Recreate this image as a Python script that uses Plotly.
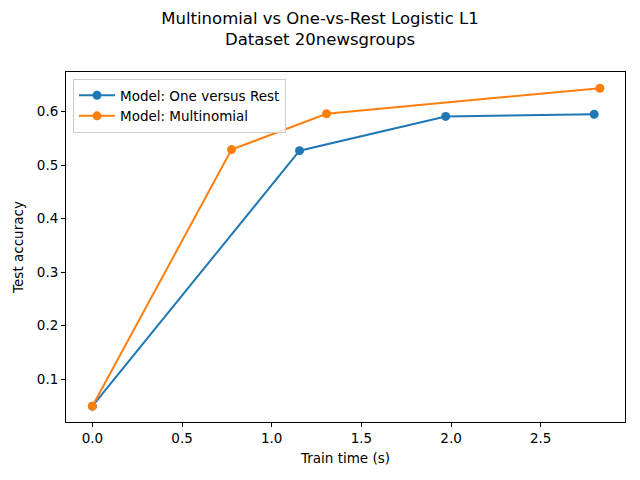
import plotly.graph_objects as go

ovr_time = [0.0, 1.155, 1.97, 2.798]
ovr_acc = [0.0496, 0.527, 0.591, 0.595]
multi_time = [0.0, 0.776, 1.306, 2.830]
multi_acc = [0.0496, 0.529, 0.596, 0.6437]

x_ticks = [0.0, 0.5, 1.0, 1.5, 2.0, 2.5]
y_ticks = [0.1, 0.2, 0.3, 0.4, 0.5, 0.6]

font = "DejaVu Sans"
fig = go.Figure()
fig.add_trace(go.Scatter(x=ovr_time, y=ovr_acc, mode="lines+markers",
                         name="Model: One versus Rest",
                         line=dict(color="#1f77b4", width=2),
                         marker=dict(size=9, color="#1f77b4")))
fig.add_trace(go.Scatter(x=multi_time, y=multi_acc, mode="lines+markers",
                         name="Model: Multinomial",
                         line=dict(color="#ff7f0e", width=2),
                         marker=dict(size=9, color="#ff7f0e")))

axis_common = dict(showline=True, linecolor="black", linewidth=1, mirror=True,
                   ticks="outside", ticklen=4, tickcolor="black", showgrid=False,
                   zeroline=False, tickfont=dict(family=font, size=13.5, color="black"))
fig.update_layout(
    width=640, height=480, plot_bgcolor="white", paper_bgcolor="white",
    margin=dict(l=66, r=15, t=72, b=58),
    title=dict(text="Multinomial vs One-vs-Rest Logistic L1<br>Dataset 20newsgroups",
               x=0.5, xanchor="center", y=0.951, yanchor="top",
               font=dict(family=font, size=16.5, color="black")),
    xaxis=dict(range=[-0.147, 2.97], tickvals=x_ticks,
               ticktext=[f"{v:.1f}" for v in x_ticks],
               title=dict(text="Train time (s)", font=dict(family=font, size=13.5, color="black"), standoff=8),
               **axis_common),
    yaxis=dict(range=[0.020, 0.674], tickvals=y_ticks,
               ticktext=[f"{v:.1f}" for v in y_ticks],
               title=dict(text="Test accuracy", font=dict(family=font, size=13.5, color="black"), standoff=10),
               **axis_common),
    legend=dict(x=0.0125, y=0.98, xanchor="left", yanchor="top",
                bgcolor="rgba(255,255,255,0.8)", bordercolor="#cccccc", borderwidth=1,
                font=dict(family=font, size=13.5, color="black"), tracegroupgap=0,
                itemwidth=36),
    showlegend=True,
)
fig.write_html("out.html", config={"displayModeBar": False},
               post_script="document.body.style.margin='0';")
